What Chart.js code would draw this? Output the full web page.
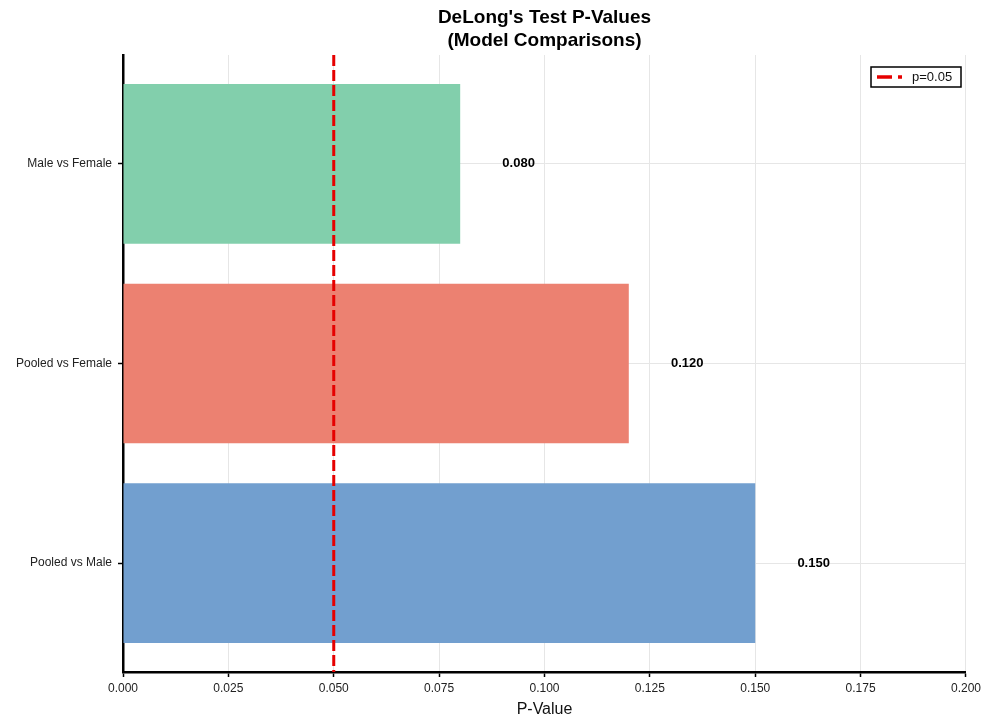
<!DOCTYPE html>
<html>
<head>
<meta charset="utf-8">
<script src="https://cdn.jsdelivr.net/npm/chart.js@4"></script>
<style>
  html, body { margin: 0; padding: 0; background: #fff; }
  #wrap { width: 985px; height: 719px; }
</style>
</head>
<body>
<div id="wrap"><canvas id="myChart" width="985" height="719"></canvas></div>
<script>
// chart data
const comparisons = ['Male vs Female', 'Pooled vs Female', 'Pooled vs Male']
const pValues = [0.080, 0.120, 0.150]
const barColors = ['rgba(130, 207, 172, 1)', 'rgba(236, 129, 113, 1)', 'rgba(114, 159, 207, 1)']
const threshold = 0.05
const xTicks = [0, 0.025, 0.05, 0.075, 0.1, 0.125, 0.15, 0.175, 0.2]
const titleLines = ["DeLong's Test P-Values", '(Model Comparisons)']

const FONT = "'Liberation Sans', Arial, sans-serif"

// bars sit on a linear index axis so the padding around them matches
const barData = pValues.map((v, i) => ({ x: v, y: i }))
const lineData = [{ x: threshold, y: -0.545 }, { x: threshold, y: 2.545 }]

const extras = {
    id: 'extras',
    afterDatasetsDraw(chart) {
        const c = chart.ctx
        const xs = chart.scales.x, ys = chart.scales.y
        // value labels next to each bar
        c.save()
        c.fillStyle = '#000'
        c.font = 'bold 13px ' + FONT
        c.textAlign = 'left'
        c.textBaseline = 'middle'
        pValues.forEach((v, i) => {
            c.fillText(v.toFixed(3), xs.getPixelForValue(v + 0.01), ys.getPixelForValue(i))
        })
        c.restore()
    },
    afterDraw(chart) {
        const c = chart.ctx
        const area = chart.chartArea
        const cx = (area.left + area.right) / 2
        c.save()
        // title
        c.fillStyle = '#000'
        c.font = 'bold 19px ' + FONT
        c.textAlign = 'center'
        c.textBaseline = 'middle'
        c.fillText(titleLines[0], cx, 18)
        c.fillText(titleLines[1], cx, 41)
        // legend box
        const lx = 871, ly = 67, lw = 90, lh = 20
        c.fillStyle = '#fff'
        c.fillRect(lx, ly, lw, lh)
        c.strokeStyle = '#000'
        c.lineWidth = 1.5
        c.strokeRect(lx, ly, lw, lh)
        c.strokeStyle = '#e60000'
        c.lineWidth = 3.5
        c.setLineDash([15, 6])
        c.beginPath()
        c.moveTo(877, ly + lh / 2)
        c.lineTo(902, ly + lh / 2)
        c.stroke()
        c.setLineDash([])
        c.fillStyle = '#111'
        c.font = '13px ' + FONT
        c.textAlign = 'left'
        c.fillText('p=0.05', 912, ly + lh / 2 + 0.5)
        c.restore()
    }
}

var ctx = document.getElementById('myChart').getContext('2d')

var myChart = new Chart(ctx, {
    type: 'bar',
    data: {
        datasets: [{
            type: 'line',
            data: lineData,
            borderColor: '#e60000',
            borderWidth: 3,
            borderDash: [11, 4],
            pointRadius: 0,
            fill: false,
            order: 0
        }, {
            type: 'bar',
            data: barData,
            backgroundColor: barColors,
            borderWidth: 0,
            barPercentage: 0.8,
            categoryPercentage: 1,
            order: 1
        }]
    },
    options: {
        indexAxis: 'y',
        responsive: false,
        animation: false,
        layout: {
            padding: { top: 55, right: 19, left: 0, bottom: 0 }
        },
        plugins: {
            legend: { display: false },
            title: { display: false },
            tooltip: { enabled: false }
        },
        scales: {
            x: {
                type: 'linear',
                min: 0,
                max: 0.2,
                afterBuildTicks(scale) {
                    scale.ticks = xTicks.map(v => ({ value: v }))
                },
                afterFit(scale) {
                    scale.height = 47
                },
                ticks: {
                    color: '#222',
                    font: { size: 12, family: FONT },
                    padding: 4,
                    callback: v => v.toFixed(3)
                },
                grid: {
                    color: '#e6e6e6',
                    lineWidth: 1,
                    tickLength: 5,
                    tickColor: '#000',
                    tickWidth: 1.5
                },
                border: { display: true, color: '#000', width: 2.5 },
                title: {
                    display: true,
                    text: 'P-Value',
                    color: '#111',
                    font: { size: 16, family: FONT },
                    padding: { top: 0, bottom: 0 }
                }
            },
            y: {
                type: 'linear',
                min: -0.545,
                max: 2.545,
                reverse: true,
                offset: false,
                afterBuildTicks(scale) {
                    scale.ticks = comparisons.map((c, i) => ({ value: i }))
                },
                afterFit(scale) {
                    scale.width = 123
                },
                ticks: {
                    color: '#222',
                    font: { size: 12, family: FONT },
                    padding: 6,
                    callback: v => comparisons[v] ?? ''
                },
                grid: {
                    offset: false,
                    color: '#e6e6e6',
                    lineWidth: 1,
                    tickLength: 5,
                    tickColor: '#000',
                    tickWidth: 1.5
                },
                border: { display: true, color: '#000', width: 2.5 }
            }
        }
    },
    plugins: [extras]
})
</script>
</body>
</html>
